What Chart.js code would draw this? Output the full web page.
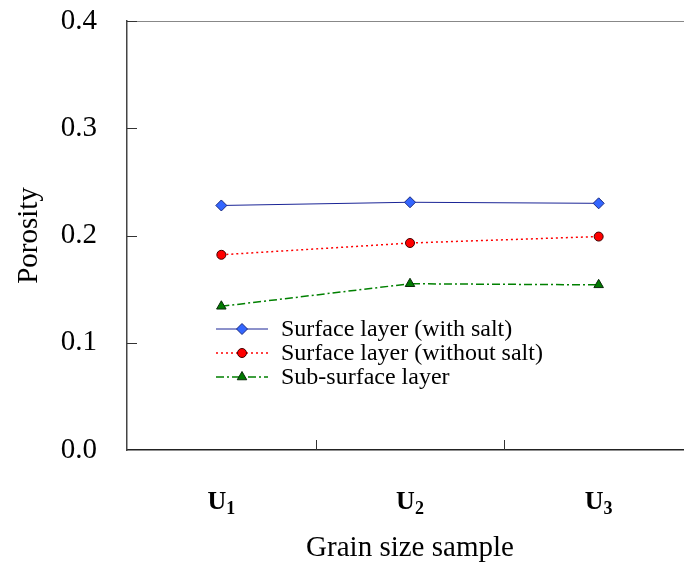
<!DOCTYPE html>
<html>
<head>
<meta charset="utf-8">
<script src="https://cdn.jsdelivr.net/npm/chart.js@4/dist/chart.umd.min.js"></script>
<style>
  html, body { margin: 0; padding: 0; background: #fff; overflow: hidden; }
  #wrap { width: 700px; height: 568px; }
</style>
</head>
<body>
<div id="wrap"><canvas id="chart" width="700" height="568"></canvas></div>
<script>
// categories, drawn as U + subscript digit
const sampleBase = ['U', 'U', 'U'];
const sampleSub = ['1', '2', '3'];
const categories = ['U1', 'U2', 'U3'];

const withSalt = [0.228, 0.231, 0.230];
const withoutSalt = [0.182, 0.193, 0.199];
const subSurface = [0.134, 0.155, 0.154];

const seriesNames = ['Surface layer (with salt)', 'Surface layer (without salt)', 'Sub-surface layer'];
const yTicks = [0.0, 0.1, 0.2, 0.3, 0.4];

const serif = '"Liberation Serif", "Times New Roman", serif';

// frame, inward ticks, x labels with subscripts, legend inside plot
const extras = {
    id: 'extras',
    beforeDatasetsDraw(chart) {
        const { ctx, chartArea: a, scales } = chart;
        ctx.save();
        ctx.strokeStyle = '#888';
        ctx.lineWidth = 1;
        ctx.beginPath();
        ctx.moveTo(a.left, a.top + 0.5);
        ctx.lineTo(a.right, a.top + 0.5);
        ctx.lineTo(a.right - 0.5, a.bottom);
        ctx.stroke();

        ctx.strokeStyle = '#333';
        yTicks.forEach(v => {
            if (v === 0) return;
            const y = Math.round(scales.y.getPixelForValue(v)) + 0.5;
            ctx.beginPath();
            ctx.moveTo(a.left, y);
            ctx.lineTo(a.left + 10, y);
            ctx.stroke();
        });
        for (let i = 1; i < categories.length; i++) {
            const x = Math.round((scales.x.getPixelForValue(i - 1) + scales.x.getPixelForValue(i)) / 2) + 0.5;
            ctx.beginPath();
            ctx.moveTo(x, a.bottom);
            ctx.lineTo(x, a.bottom - 10);
            ctx.stroke();
        }

        // x labels
        ctx.fillStyle = '#000';
        ctx.textBaseline = 'alphabetic';
        categories.forEach((c, i) => {
            const cx = scales.x.getPixelForValue(i);
            ctx.font = 'bold 26px ' + serif;
            const w1 = ctx.measureText(sampleBase[i]).width;
            ctx.font = 'bold 18px ' + serif;
            const w2 = ctx.measureText(sampleSub[i]).width;
            const x0 = cx - (w1 + w2) / 2;
            ctx.font = 'bold 26px ' + serif;
            ctx.fillText(sampleBase[i], x0, 509);
            ctx.font = 'bold 18px ' + serif;
            ctx.fillText(sampleSub[i], x0 + w1, 514);
        });
        ctx.restore();
    },
    afterDatasetsDraw(chart) {
        const { ctx } = chart;
        ctx.save();
        chart.data.datasets.forEach((ds, i) => {
            const y = 329 + i * 24;
            ctx.strokeStyle = ds.borderColor;
            ctx.lineWidth = ds.borderWidth;
            ctx.setLineDash(ds.borderDash || []);
            ctx.beginPath();
            ctx.moveTo(216, y);
            ctx.lineTo(268, y);
            ctx.stroke();
            ctx.setLineDash([]);
            ctx.fillStyle = ds.pointBackgroundColor;
            ctx.strokeStyle = ds.pointBorderColor;
            ctx.lineWidth = 1;
            Chart.helpers.drawPoint(ctx, { pointStyle: ds.pointStyle, radius: ds.pointRadius, borderWidth: 1 }, 242, y);
            ctx.fillStyle = '#000';
            ctx.font = '24px ' + serif;
            ctx.textBaseline = 'middle';
            ctx.fillText(ds.label, 281, y + 1);
        });
        ctx.restore();
    }
};

new Chart(document.getElementById('chart'), {
    type: 'line',
    data: {
        labels: categories,
        datasets: [
            {
                label: seriesNames[0], data: withSalt,
                borderColor: '#1a2496', borderWidth: 1,
                pointStyle: 'rectRot', pointRadius: 5.5,
                pointBackgroundColor: '#3366ff', pointBorderColor: '#1a2a80', pointBorderWidth: 1
            },
            {
                label: seriesNames[1], data: withoutSalt,
                borderColor: '#ff0000', borderWidth: 1.5, borderDash: [2, 3],
                pointStyle: 'circle', pointRadius: 4.5,
                pointBackgroundColor: '#ff0000', pointBorderColor: '#400000', pointBorderWidth: 1
            },
            {
                label: seriesNames[2], data: subSurface,
                borderColor: '#008000', borderWidth: 1.5, borderDash: [8, 3, 2, 3],
                pointStyle: 'triangle', pointRadius: 5.5,
                pointBackgroundColor: '#007a00', pointBorderColor: '#0a2a0a', pointBorderWidth: 1
            }
        ]
    },
    options: {
        responsive: false,
        animation: false,
        layout: { padding: { top: 21, right: 7, left: 0, bottom: 0 } },
        plugins: { legend: { display: false }, tooltip: { enabled: false } },
        scales: {
            x: {
                offset: true,
                grid: { display: false },
                border: { display: true, color: '#222', width: 1.5 },
                ticks: { display: false },
                title: { display: true, text: 'Grain size sample', color: '#000', font: { family: serif, size: 29 }, padding: { top: 0, bottom: 2 } },
                afterFit(scale) { scale.height = 118; scale.paddingLeft = 0; scale.paddingRight = 0; }
            },
            y: {
                min: 0, max: 0.4,
                afterBuildTicks(scale) { scale.ticks = yTicks.map(v => ({ value: v })); },
                grid: { display: false, drawTicks: false },
                border: { display: true, color: '#444', width: 1.5 },
                ticks: { color: '#000', padding: 30, font: { family: serif, size: 29 }, callback: v => v.toFixed(1) },
                title: { display: true, text: 'Porosity', color: '#000', font: { family: serif, size: 29 }, padding: { top: 12, bottom: 0 } },
                afterFit(scale) { scale.width = 127; scale.paddingTop = 0; scale.paddingBottom = 0; }
            }
        }
    },
    plugins: [extras]
});
</script>
</body>
</html>
